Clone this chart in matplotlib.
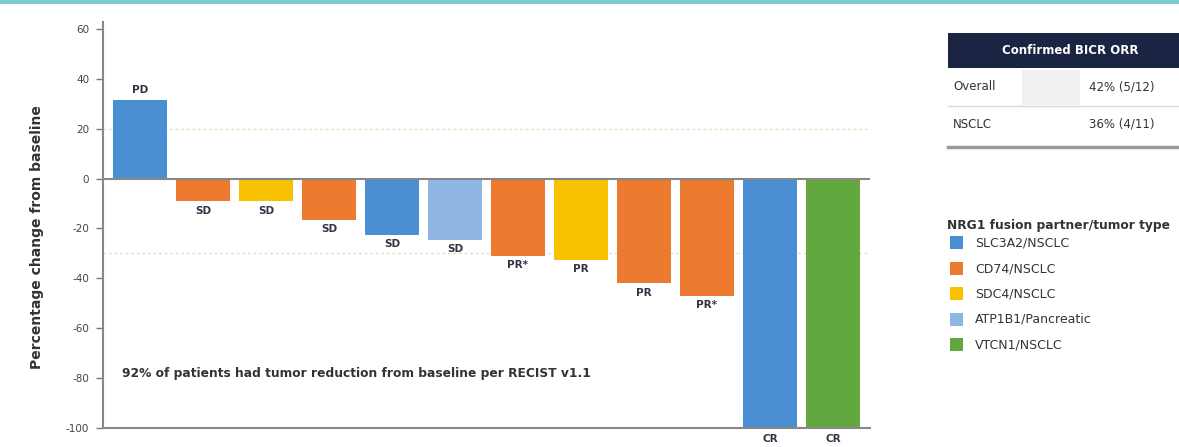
import matplotlib
matplotlib.use("Agg")
import matplotlib.pyplot as plt
from matplotlib.patches import Rectangle
from matplotlib.lines import Line2D

plt.rcParams['font.family'] = ['DejaVu Sans']

# Best percentage change from baseline per patient, sorted
changes = [31.5, -9, -9, -16.5, -22.5, -24.5, -31, -32.5, -42, -47, -100, -100]
groups = ["SLC3A2/NSCLC", "CD74/NSCLC", "SDC4/NSCLC", "CD74/NSCLC", "SLC3A2/NSCLC",
          "ATP1B1/Pancreatic", "CD74/NSCLC", "SDC4/NSCLC", "CD74/NSCLC", "CD74/NSCLC",
          "SLC3A2/NSCLC", "VTCN1/NSCLC"]
responses = ["PD", "SD", "SD", "SD", "SD", "SD", "PR*", "PR", "PR", "PR*", "CR", "CR"]

legend_labels = ["SLC3A2/NSCLC", "CD74/NSCLC", "SDC4/NSCLC", "ATP1B1/Pancreatic", "VTCN1/NSCLC"]
legend_colors = ["#4a8ed3", "#ec7a2f", "#f7c200", "#8fb6e3", "#62a83f"]
group_color = dict(zip(legend_labels, legend_colors))

yticks = [60, 40, 20, 0, -20, -40, -60, -80, -100]
ref_lines = [20, -30]

table_header = "Confirmed BICR ORR"
table_rows = ["Overall", "NSCLC"]
table_values = ["42% (5/12)", "36% (4/11)"]

note = "92% of patients had tumor reduction from baseline per RECIST v1.1"

W, H = 1179, 447
fig = plt.figure(figsize=(W / 100, H / 100), dpi=100)
fig.patch.set_facecolor("white")

ax = fig.add_axes([103 / W, 1 - 428 / H, (870 - 103) / W, (428 - 22) / H])
x = list(range(len(changes)))
ax.bar(x, changes, width=0.86, color=[group_color[g] for g in groups], zorder=2)

ax.set_xlim(-0.59, 11.59)
ax.set_ylim(-100, 62.8)
ax.set_yticks(yticks)
ax.set_yticklabels([str(t) for t in yticks], fontsize=7.5, color="#444444")
ax.set_xticks([])
ax.tick_params(axis="y", direction="out", length=5, width=1, color="#777777", pad=5)

for side in ["top", "right"]:
    ax.spines[side].set_visible(False)
for side in ["left", "bottom"]:
    ax.spines[side].set_color("#888888")
    ax.spines[side].set_linewidth(1.5)

ax.axhline(0, color="#888888", lw=1.5, zorder=3)
for r in ref_lines:
    ax.axhline(r, color="#f3d9b8", lw=1.0, ls=(0, (2, 2)), zorder=1)

# response labels beside each bar end
for xi, v, lab in zip(x, changes, responses):
    if v >= 0:
        ax.text(xi, v + 2.0, lab, ha="center", va="bottom", fontsize=7.5,
                fontweight="bold", color="#333344")
    elif v <= -100:
        ax.text(xi, v - 2.4, lab, ha="center", va="top", fontsize=7.5,
                fontweight="bold", color="#333344", clip_on=False)
    else:
        ax.text(xi, v - 1.8, lab, ha="center", va="top", fontsize=7.5,
                fontweight="bold", color="#333344")

ax.set_ylabel("Percentage change from baseline", fontsize=10, fontweight="bold",
              color="#333333")
ax.yaxis.set_label_coords(-0.077, 0.47)
ax.text(-0.29, -78, note, fontsize=8.8, fontweight="semibold", color="#333333",
        va="center", ha="left")

# thin teal rule along the top edge
fig.add_artist(Line2D([0, 1], [1 - 1.5 / H, 1 - 1.5 / H], transform=fig.transFigure,
                      color="#7ccbd3", lw=3))

# response-rate table
def fx(px):
    return px / W

def fy(py):
    return 1 - py / H

fig.add_artist(Rectangle((fx(948), fy(68)), fx(240), 35 / H, transform=fig.transFigure,
                         facecolor="#1b2442", edgecolor="none"))
fig.text(fx(1070), fy(50.5), table_header, color="white", fontsize=8.5,
         fontweight="bold", ha="center", va="center")
fig.add_artist(Rectangle((fx(1022), fy(105)), fx(58), 35 / H, transform=fig.transFigure,
                         facecolor="#f0f0f0", edgecolor="none"))
row_y = [87, 124]
for i, (name, val) in enumerate(zip(table_rows, table_values)):
    fig.text(fx(953), fy(row_y[i]), name, fontsize=8.5, color="#333333", va="center")
    fig.text(fx(1122), fy(row_y[i]), val, fontsize=8.5, color="#333333", va="center",
             ha="center")
fig.add_artist(Line2D([fx(948), 1], [fy(106), fy(106)], transform=fig.transFigure,
                      color="#d8d8d8", lw=1))
fig.add_artist(Line2D([fx(948), 1], [fy(147), fy(147)], transform=fig.transFigure,
                      color="#9a9a9a", lw=2.5))

# legend for fusion partner / tumor type
fig.text(fx(947), fy(225), "NRG1 fusion partner/tumor type", fontsize=8.8,
         fontweight="bold", color="#333333", va="center")
for i, (lab, col) in enumerate(zip(legend_labels, legend_colors)):
    yc = 243 + i * 25.5
    fig.add_artist(Rectangle((fx(950), fy(yc + 6)), fx(13), 13 / H,
                             transform=fig.transFigure, facecolor=col, edgecolor="none"))
    fig.text(fx(975), fy(yc), lab, fontsize=9, color="#333333", va="center")

fig.savefig("out.png", dpi=100, facecolor="white")
